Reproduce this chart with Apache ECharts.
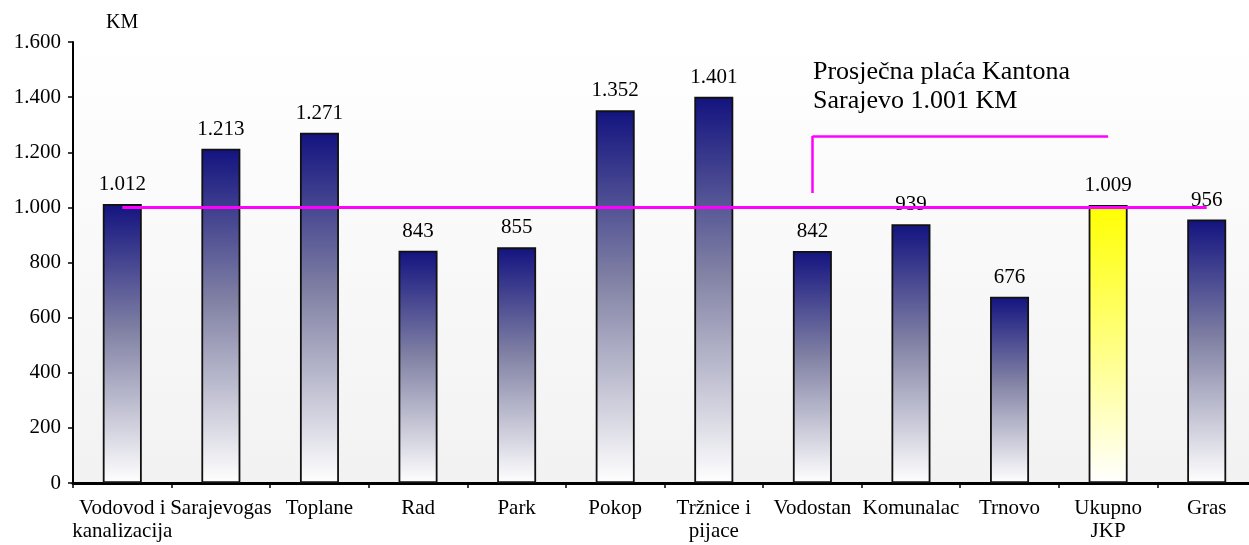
<!DOCTYPE html>
<html>
<head>
<meta charset="utf-8">
<script src="https://cdn.jsdelivr.net/npm/echarts@6/dist/echarts.min.js"></script>
<style>
html,body{margin:0;padding:0;background:#fff;overflow:hidden;}
#chart{width:1249px;height:545px;}
</style>
</head>
<body>
<div id="chart"></div>
<script>
const categories = ['Vodovod i\nkanalizacija','Sarajevogas','Toplane','Rad','Park','Pokop','Tržnice i\npijace','Vodostan','Komunalac','Trnovo','Ukupno\nJKP','Gras'];
const values = [1012,1213,1271,843,855,1352,1401,842,939,676,1009,956];
const highlightCategory = 'Ukupno\nJKP';
const averageWage = 1001;
const calloutFrom = 'Vodostan';
const calloutTo = 'Ukupno\nJKP';
const calloutLow = 1052;
const calloutHigh = 1259;
const yTicks = [0,200,400,600,800,1000,1200,1400,1600];
const unitLabel = 'KM';
const noteText = 'Prosječna plaća Kantona\nSarajevo 1.001 KM';

const fmt = v => String(v).replace(/\B(?=(\d{3})+(?!\d))/g, '.');
const FONT = '"Liberation Serif", "Times New Roman", serif';

const navyGrad = new echarts.graphic.LinearGradient(0,0,0,1,[
  {offset:0,color:'#131380'},
  {offset:0.45,color:'#8080a4'},
  {offset:1,color:'#ffffff'}
]);
const yellowGrad = new echarts.graphic.LinearGradient(0,0,0,1,[{offset:0,color:'#ffff00'},{offset:1,color:'#ffffff'}]);

const barData = values.map((v,i) => ({
  value: v,
  itemStyle: { color: categories[i] === highlightCategory ? yellowGrad : navyGrad }
}));

const chart = echarts.init(document.getElementById('chart'), null, {renderer:'canvas'});
chart.setOption({
  animation: false,
  backgroundColor: '#ffffff',
  grid: {
    left: 73, width: 1183, top: 42, height: 441,
    outerBoundsMode: 'none',
    containLabel: false,
    show: true, borderWidth: 0,
    backgroundColor: new echarts.graphic.LinearGradient(0,0,0,1,[{offset:0,color:'#ffffff'},{offset:1,color:'#f2f2f2'}])
  },
  xAxis: {
    type: 'category',
    data: categories,
    boundaryGap: true,
    axisLine: { lineStyle: { color: '#000', width: 3 } },
    axisTick: { show: true, length: 5, interval: 0, lineStyle: { color: '#000', width: 1.5 } },
    axisLabel: { interval: 0, color: '#000', fontFamily: FONT, fontSize: 21, lineHeight: 23, margin: 14 }
  },
  yAxis: {
    type: 'value',
    min: yTicks[0], max: yTicks[yTicks.length-1], interval: yTicks[1]-yTicks[0],
    axisLine: { show: true, lineStyle: { color: '#000', width: 2 } },
    axisTick: { show: true, length: 5, lineStyle: { color: '#000', width: 1.5 } },
    splitLine: { show: false },
    axisLabel: { color: '#000', fontFamily: FONT, fontSize: 21, margin: 12, formatter: fmt }
  },
  graphic: [
    { type: 'text', left: 106, top: 13, z: 100, style: { text: unitLabel, font: '20px ' + FONT, fill: '#000' } },
    { type: 'text', left: 813, top: 58, z: 100, style: { text: noteText, font: '26px ' + FONT, lineHeight: 29, fill: '#000' } }
  ],
  series: [{
    type: 'bar',
    data: barData,
    barWidth: 39,
    itemStyle: { borderColor: '#111', borderWidth: 1.8 },
    label: { show: true, position: 'top', distance: 9, color: '#000', fontFamily: FONT, fontSize: 21, formatter: p => fmt(p.value) },
    markLine: {
      silent: true,
      symbol: ['none','none'],
      z: 10,
      label: { show: false },
      lineStyle: { color: '#ff00ff', width: 3, type: 'solid' },
      data: [
        [ { coord: [categories[0], averageWage] }, { coord: [categories[categories.length-1], averageWage] } ],
        [ { coord: [calloutFrom, calloutLow], lineStyle:{width:2.5} }, { coord: [calloutFrom, calloutHigh] } ],
        [ { coord: [calloutFrom, calloutHigh], lineStyle:{width:2.5} }, { coord: [calloutTo, calloutHigh] } ]
      ]
    }
  }]
});
</script>
</body>
</html>
